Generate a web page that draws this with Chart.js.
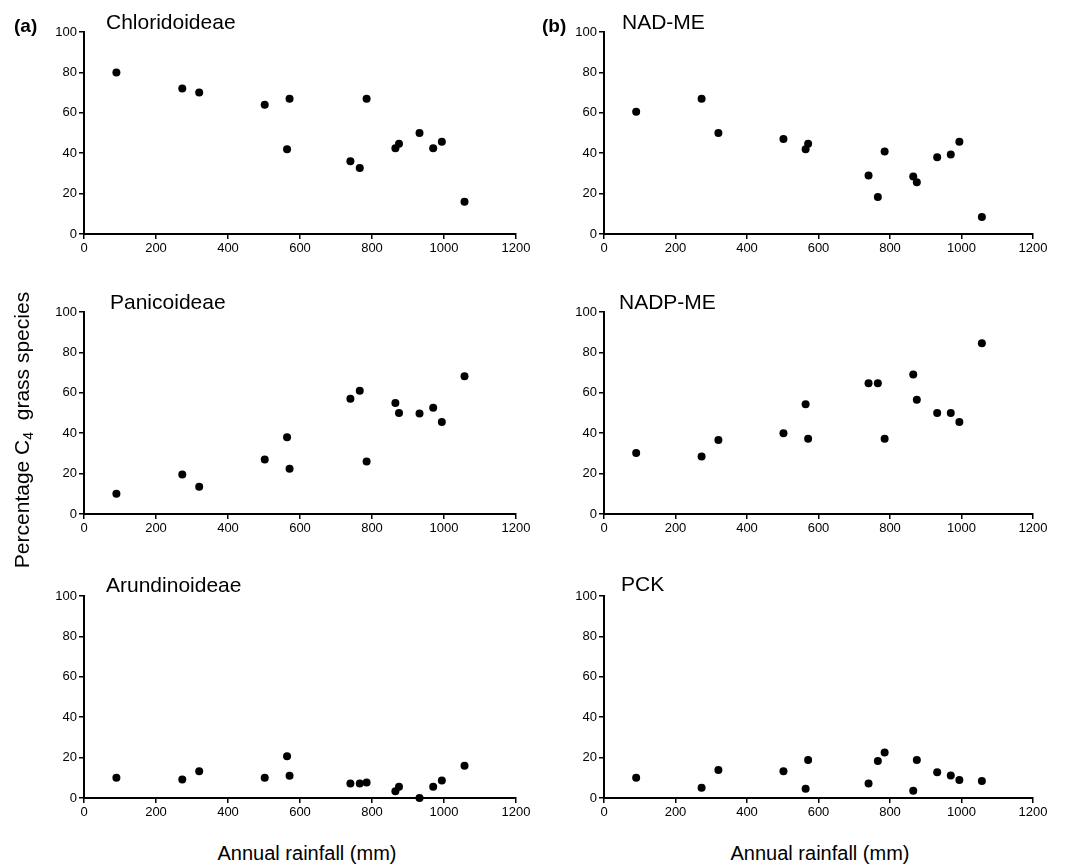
<!DOCTYPE html>
<html>
<head>
<meta charset="utf-8">
<script src="https://cdn.jsdelivr.net/npm/chart.js@4"></script>
<style>
  body { margin: 0; background: #fff; width: 1073px; height: 868px; position: relative; overflow: hidden;
         font-family: "Liberation Sans", Arial, sans-serif; color: #000; }
  canvas { position: absolute; }
  .txt { position: absolute; line-height: 1; white-space: nowrap; }
  .lab { font-size: 19px; font-weight: bold; }
  .ttl { font-size: 21px; }
  .axt { font-size: 20px; transform: translateX(-50%); }
  .yt { font-size: 21px; transform: translate(-50%, -50%) rotate(-90deg); }
  .yt sub { font-size: 14px; vertical-align: -4px; line-height: 0; }
</style>
</head>
<body>
<canvas id="c1" style="left:0px;top:0px" width="540" height="270"></canvas>
<canvas id="c2" style="left:540px;top:0px" width="533" height="270"></canvas>
<canvas id="c3" style="left:0px;top:280px" width="540" height="270"></canvas>
<canvas id="c4" style="left:540px;top:280px" width="533" height="270"></canvas>
<canvas id="c5" style="left:0px;top:564px" width="540" height="270"></canvas>
<canvas id="c6" style="left:540px;top:564px" width="533" height="270"></canvas>

<div class="txt lab" style="left:14px;top:16px">(a)</div>
<div class="txt lab" style="left:542px;top:16px">(b)</div>
<div class="txt ttl" style="left:106px;top:11px">Chloridoideae</div>
<div class="txt ttl" style="left:622px;top:11px">NAD-ME</div>
<div class="txt ttl" style="left:110px;top:291px">Panicoideae</div>
<div class="txt ttl" style="left:619px;top:291px">NADP-ME</div>
<div class="txt ttl" style="left:106px;top:574px">Arundinoideae</div>
<div class="txt ttl" style="left:621px;top:573px">PCK</div>
<div class="txt yt" style="left:21px;top:430px">Percentage C<sub>4</sub>&nbsp; grass species</div>
<div class="txt axt" style="left:307px;top:843px">Annual rainfall (mm)</div>
<div class="txt axt" style="left:820px;top:843px">Annual rainfall (mm)</div>

<script>
// annual rainfall at each site (mm)
const rainfall = [90, 273, 320, 502, 564, 571, 740, 766, 785, 865, 875, 932, 970, 994, 1057];

// percentage of C4 grass species per group
const chloridoideae = [80, 72, 70, 64, 42, 67, 36, 32.7, 67, 42.4, 44.7, 50, 42.4, 45.7, 16];
const panicoideae   = [10, 19.5, 13.5, 27, 38, 22.4, 57, 61, 26, 55, 50, 49.8, 52.6, 45.5, 68.2];
const arundinoideae = [10, 9.2, 13.2, 10, 20.7, 11, 7.2, 7.2, 7.7, 3.3, 5.6, 0, 5.6, 8.7, 16];
const nadMe  = [60.5, 67, 50, 47, 42, 44.7, 29, 18.3, 40.8, 28.5, 25.6, 38, 39.3, 45.7, 8.4];
const nadpMe = [30.2, 28.5, 36.6, 40, 54.3, 37.3, 64.7, 64.7, 37.3, 69, 56.6, 50, 50, 45.5, 84.5];
const pck    = [10, 5.1, 13.8, 13.3, 4.6, 18.8, 7.2, 18.3, 22.5, 3.6, 18.8, 12.7, 11.1, 8.9, 8.4];

const xTicks = [0, 200, 400, 600, 800, 1000, 1200];
const yTicks = [0, 20, 40, 60, 80, 100];

const tickFont = { family: '"Liberation Sans", Arial, sans-serif', size: 13 };

function drawPanel(id, values, yAxisWidth, rightPad) {
    const ctx = document.getElementById(id).getContext('2d');
    new Chart(ctx, {
        type: 'scatter',
        data: {
            datasets: [{
                data: rainfall.map((r, i) => ({ x: r, y: values[i] })),
                backgroundColor: '#000',
                pointRadius: 4,
                pointBorderWidth: 0,
                clip: false
            }]
        },
        options: {
            responsive: false,
            animation: false,
            layout: { padding: { left: 0, top: 32, right: rightPad, bottom: 12 } },
            plugins: { legend: { display: false }, tooltip: { enabled: false } },
            scales: {
                x: {
                    type: 'linear',
                    min: 0,
                    max: 1200,
                    afterBuildTicks: s => { s.ticks = xTicks.map(v => ({ value: v })); },
                    afterFit: s => { s.height = 24; },
                    ticks: { color: '#000', font: tickFont, padding: 2, maxRotation: 0, callback: v => String(v) },
                    grid: { drawOnChartArea: false, drawTicks: true, tickLength: 5, color: '#000', lineWidth: 1.5 },
                    border: { color: '#000', width: 2 }
                },
                y: {
                    min: 0,
                    max: 100,
                    afterBuildTicks: s => { s.ticks = yTicks.map(v => ({ value: v })); },
                    afterFit: s => { s.width = yAxisWidth; },
                    ticks: { color: '#000', font: tickFont, padding: 2, callback: v => String(v) },
                    grid: { drawOnChartArea: false, drawTicks: true, tickLength: 5, color: '#000', lineWidth: 1.5 },
                    border: { color: '#000', width: 2 }
                }
            }
        }
    });
}

drawPanel('c1', chloridoideae, 84, 24);
drawPanel('c2', nadMe, 64, 40);
drawPanel('c3', panicoideae, 84, 24);
drawPanel('c4', nadpMe, 64, 40);
drawPanel('c5', arundinoideae, 84, 24);
drawPanel('c6', pck, 64, 40);
</script>
</body>
</html>
